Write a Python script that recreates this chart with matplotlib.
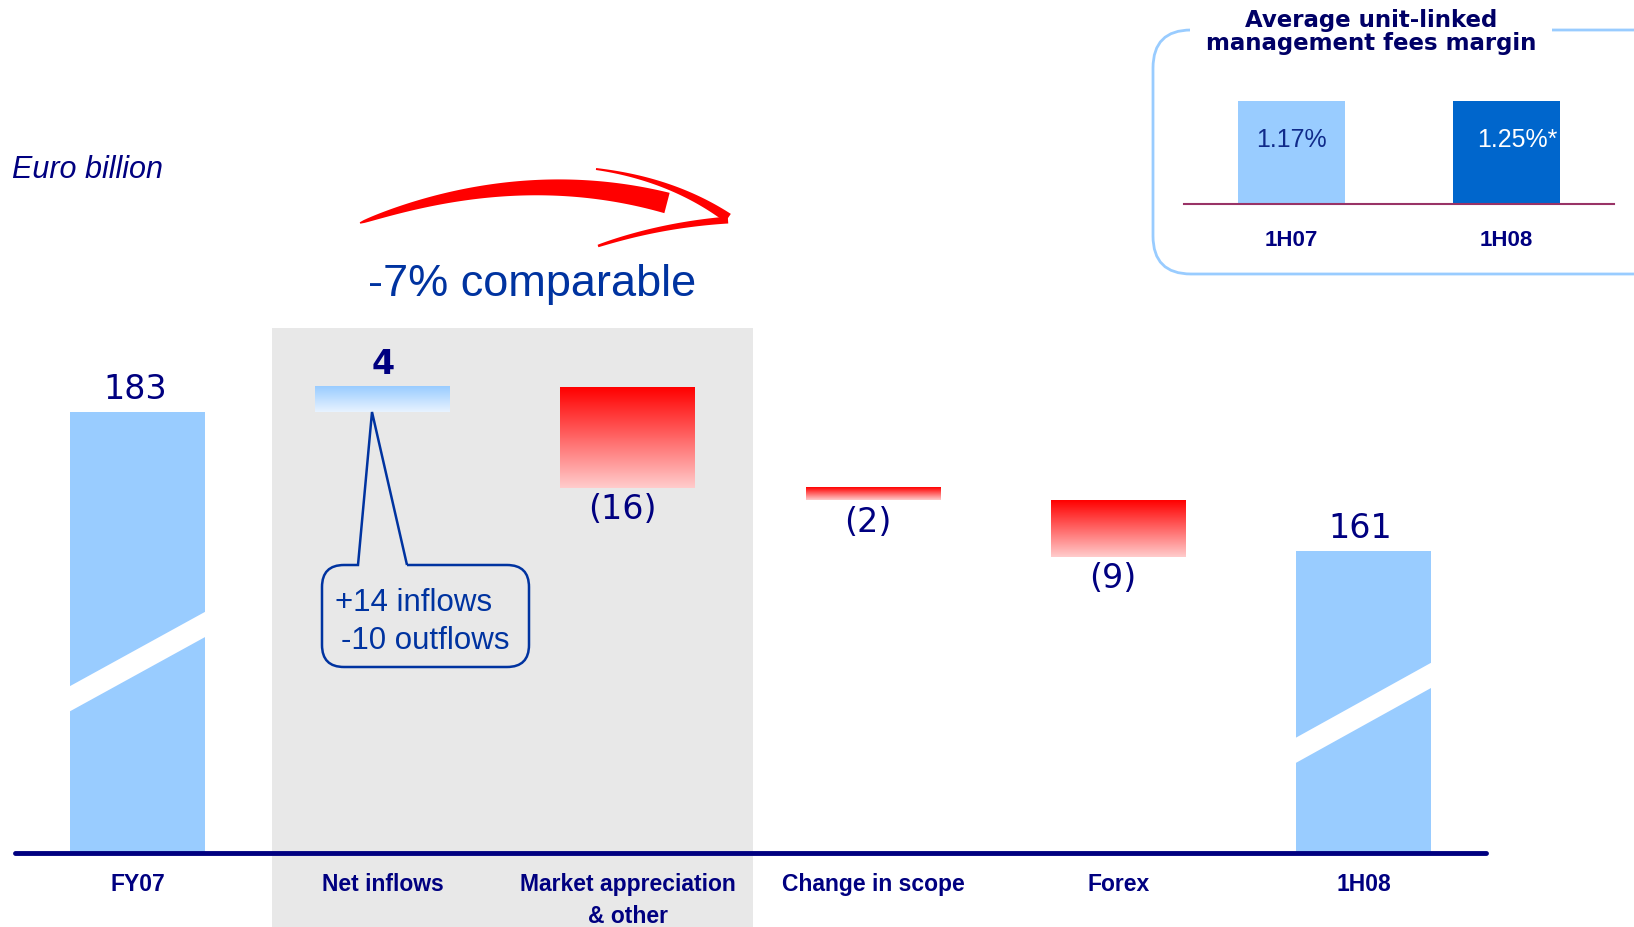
import numpy as np
import matplotlib
matplotlib.use("Agg")
import matplotlib.pyplot as plt
from matplotlib.colors import LinearSegmentedColormap
from matplotlib.patches import Rectangle, Polygon, FancyBboxPatch, PathPatch
from matplotlib.path import Path

plt.rcParams['font.family'] = ['Liberation Sans', 'DejaVu Sans']

# waterfall data (Euro billion)
categories = ["FY07", "Net inflows", "Market appreciation\n& other",
              "Change in scope", "Forex", "1H08"]
start_value = 183
end_value = 161
changes = [4, -16, -2, -9]
value_labels = ["183", "4", "(16)", "(2)", "(9)", "161"]

# inset data
inset_periods = ["1H07", "1H08"]
inset_margins = [1.17, 1.25]
inset_labels = ["1.17%", "1.25%*"]

NAVY = '#000080'
BLUE_TXT = '#0033a0'
LIGHT_BLUE = '#99ccff'
NUM_FONT = ['DejaVu Sans']

W, H = 1634, 928
fig = plt.figure(figsize=(W / 100, H / 100), dpi=100)


def fx(px):
    return px / W


def fy(py):
    return 1 - py / H


# main waterfall axes, bottom edge = baseline
ax = fig.add_axes([fx(15), fy(854), fx(1486) - fx(15), fy(0) - fy(854)])
ax.set_facecolor('none')
x = np.arange(len(categories))
bw = 0.55

# grey highlight behind net inflows / market
ax.add_patch(Rectangle((0.55, 101.3), 1.96, 95.1, color='#e8e8e8', lw=0,
                       clip_on=False, zorder=0))

ax.bar([x[0], x[-1]], [start_value, end_value], width=bw, color=LIGHT_BLUE, zorder=2)
for xi, v, top in zip([x[0], x[-1]], [value_labels[0], value_labels[-1]],
                      [start_value, end_value]):
    ax.annotate(v, (xi, top), xytext=(-2, 17), textcoords='offset points',
                ha='center', va='center', fontsize=24, color=NAVY, family=NUM_FONT)

# axis break stripes on the two totals
for xi, (yl, yr) in zip([x[0], x[-1]], [(137.3, 149.5), (129.1, 141.4)]):
    half = 2.0
    pts = [(xi - bw / 2 - 0.01, yl - half), (xi + bw / 2 + 0.01, yr - half),
           (xi + bw / 2 + 0.01, yr + half), (xi - bw / 2 - 0.01, yl + half)]
    ax.add_patch(Polygon(pts, closed=True, color='white', lw=0, zorder=3))

up_cmap = LinearSegmentedColormap.from_list('up', ['#e8f3ff', LIGHT_BLUE])
down_cmap = LinearSegmentedColormap.from_list('down', ['#ffcccc', '#ff0000'])
grad = np.linspace(0, 1, 256).reshape(-1, 1)

running = start_value
for i, d in enumerate(changes, start=1):
    lo, hi = sorted([running, running + d])
    ax.imshow(grad, cmap=up_cmap if d > 0 else down_cmap, origin='lower',
              extent=(x[i] - bw / 2, x[i] + bw / 2, lo, hi), aspect='auto',
              interpolation='bilinear', zorder=2)
    if d > 0:
        ax.annotate(value_labels[i], (x[i], hi), xytext=(0, 17), textcoords='offset points',
                    ha='center', va='center', fontsize=24, color=NAVY,
                    fontweight='bold', family=NUM_FONT)
    else:
        ax.annotate(value_labels[i], (x[i], lo), xytext=(-4, -15), textcoords='offset points',
                    ha='center', va='center', fontsize=24, color=NAVY, family=NUM_FONT)
    running += d

ax.set_xlim(-0.5, 5.5)
ax.set_ylim(113.0, 248.6)
ax.set_aspect('auto')
for s in ['top', 'left', 'right']:
    ax.spines[s].set_visible(False)
ax.spines['bottom'].set_color(NAVY)
ax.spines['bottom'].set_linewidth(3.5)
ax.spines['bottom'].set_capstyle('round')
ax.set_yticks([])
ax.set_xticks(x, categories)
ax.tick_params(axis='x', length=0, pad=14, labelsize=16.5, labelcolor=NAVY)
for lbl in ax.get_xticklabels():
    lbl.set_fontweight('bold')
    lbl.set_linespacing(1.45)

# overlay in pixel coordinates for annotations
ov = fig.add_axes([0, 0, 1, 1])
ov.set_xlim(0, W)
ov.set_ylim(H, 0)
ov.axis('off')
ov.set_facecolor('none')

ov.text(12, 170, "Euro billion", style='italic', fontsize=22, color=NAVY,
        ha='left', va='center')
ov.text(532, 285, "-7% comparable", fontsize=32.5, color=BLUE_TXT,
        ha='center', va='center')


def brush(p0, p1, p2, w0, w1, n=80, k=1.0):
    p0, p1, p2 = map(np.array, (p0, p1, p2))
    t = np.linspace(0, 1, n)[:, None]
    pts = (1 - t) ** 2 * p0 + 2 * (1 - t) * t * p1 + t ** 2 * p2
    d = np.gradient(pts, axis=0)
    nrm = np.stack([-d[:, 1], d[:, 0]], axis=1)
    nrm /= np.linalg.norm(nrm, axis=1, keepdims=True)
    w = (w0 + (w1 - w0) * t ** k) / 2
    poly = np.vstack([pts + nrm * w, (pts - nrm * w)[::-1]])
    ov.add_patch(Polygon(poly, closed=True, color='#ff0000', lw=0))


# red hand-drawn arrow
brush((360, 224), (520, 165), (667, 204), 1.5, 21, k=0.6)
brush((596, 170), (672, 180), (728, 219), 2, 10, k=1.2)
brush((598, 247), (660, 226), (728, 221), 2.5, 7, k=0.7)

# callout for net inflows
L, R, T, B, r = 322, 529, 566, 668, 22
verts = [(407, T), (372, 413), (358, T), (L + r, T),
         (L, T), (L, T + r), (L, B - r),
         (L, B), (L + r, B), (R - r, B),
         (R, B), (R, B - r), (R, T + r),
         (R, T), (R - r, T), (407, T)]
codes = [Path.MOVETO, Path.LINETO, Path.LINETO, Path.LINETO,
         Path.CURVE3, Path.CURVE3, Path.LINETO,
         Path.CURVE3, Path.CURVE3, Path.LINETO,
         Path.CURVE3, Path.CURVE3, Path.LINETO,
         Path.CURVE3, Path.CURVE3, Path.LINETO]
ov.add_patch(PathPatch(Path(verts, codes), fc='none', ec=BLUE_TXT, lw=1.8))
ov.text(335, 603, "+14 inflows", fontsize=22.5, color=BLUE_TXT, ha='left', va='center')
ov.text(341, 641, "-10 outflows", fontsize=22.5, color=BLUE_TXT, ha='left', va='center')

# inset frame and title
ov.add_patch(FancyBboxPatch((1153, 31), 520, 244, boxstyle='round,pad=0,rounding_size=38',
                            fc='none', ec=LIGHT_BLUE, lw=2))
ov.text(1371, 32, "Average unit-linked\nmanagement fees margin", fontsize=16.5,
        fontweight='bold', family=['DejaVu Sans'], color='#000066',
        ha='center', va='center', linespacing=0.98,
        bbox=dict(fc='white', ec='none', pad=11))

# inset bars
iax = fig.add_axes([fx(1184), fy(205), fx(1614) - fx(1184), fy(102) - fy(205)])
ix = np.arange(len(inset_periods))
iax.bar(ix, np.ones(len(inset_margins)), width=0.5, color=[LIGHT_BLUE, '#0066cc'])
iax.set_xlim(-0.5, 1.5)
iax.set_ylim(0, 1)
for i, (lab, col) in enumerate(zip(inset_labels, ['#102a8a', 'white'])):
    iax.text(i + (0.05 if i else 0), 0.63, lab, ha='center', va='center',
             fontsize=18, color=col)
for s in ['top', 'left', 'right']:
    iax.spines[s].set_visible(False)
iax.spines['bottom'].set_color('#993366')
iax.spines['bottom'].set_linewidth(1.5)
iax.set_yticks([])
iax.set_xticks(ix, inset_periods)
iax.tick_params(axis='x', length=0, pad=18, labelsize=16, labelcolor=NAVY)
for lbl in iax.get_xticklabels():
    lbl.set_fontweight('bold')
iax.set_facecolor('none')

fig.savefig('out.png', dpi=100)
